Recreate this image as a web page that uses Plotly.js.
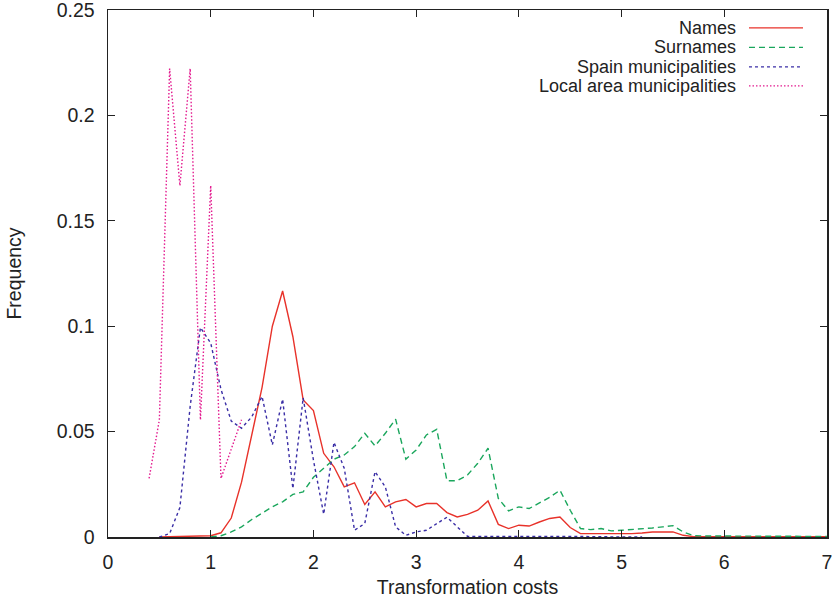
<!DOCTYPE html>
<html>
<head>
<meta charset="utf-8">
<script src="https://cdn.plot.ly/plotly-3.0.1.min.js"></script>
<style>html,body{margin:0;padding:0;background:#fff;}#chart{width:836px;height:598px;}</style>
</head>
<body>
<div id="chart"></div>
<script>
// ---- Data ----
const seriesNames = ["Names", "Surnames", "Spain municipalities", "Local area municipalities"];

const namesX = [0.5,0.6,0.7,0.8,0.9,1.0,1.1,1.2,1.3,1.4,1.5,1.6,1.7,1.8,1.9,2.0,2.1,2.2,2.3,2.4,2.5,2.6,2.7,2.8,2.9,3.0,3.1,3.2,3.3,3.4,3.5,3.6,3.7,3.8,3.9,4.0,4.1,4.2,4.3,4.4,4.5,4.6,4.7,4.8,4.9,5.0,5.1,5.2,5.3,5.4,5.5,5.6,5.7,5.8,5.9,6.0,6.2,6.4,6.6,6.8,7.0];
const namesY = [0,0.0001,0.0002,0.0003,0.0004,0.0006,0.002,0.009,0.026,0.048,0.071,0.100,0.1167,0.095,0.065,0.060,0.0397,0.0333,0.0238,0.0257,0.0154,0.0214,0.0143,0.0167,0.0178,0.0143,0.0159,0.0159,0.0116,0.0095,0.0107,0.0127,0.0171,0.006,0.004,0.0056,0.0052,0.0071,0.0088,0.0095,0.0045,0.0016,0.0016,0.0016,0.0013,0.0013,0.0016,0.0019,0.0024,0.0024,0.0024,0.0008,0.0002,0.0002,0.0002,0.0001,0.0001,0.0001,0.0001,0.0001,0.0001];

const surnamesX = [1.0,1.1,1.2,1.3,1.4,1.5,1.6,1.7,1.8,1.9,2.0,2.1,2.2,2.3,2.4,2.5,2.6,2.7,2.8,2.9,3.0,3.1,3.2,3.3,3.4,3.5,3.6,3.7,3.8,3.9,4.0,4.1,4.2,4.3,4.4,4.5,4.6,4.7,4.8,4.9,5.0,5.1,5.2,5.3,5.4,5.5,5.6,5.7,5.8,6.0,6.2,6.4,6.6,6.8,7.0];
const surnamesY = [0,0.0006,0.0024,0.0048,0.0083,0.0114,0.0143,0.0167,0.0202,0.0214,0.0283,0.0326,0.0369,0.0389,0.0429,0.0492,0.0432,0.0492,0.0559,0.0369,0.0413,0.0484,0.0511,0.0267,0.0267,0.0294,0.035,0.0421,0.0183,0.0124,0.0143,0.0135,0.0162,0.0188,0.0222,0.0127,0.004,0.0035,0.004,0.0029,0.0032,0.0035,0.0038,0.0043,0.0048,0.0054,0.0024,0.0006,0.0005,0.0004,0.0004,0.0003,0.0003,0.0003,0.0003];

const spainX = [0.5,0.6,0.7,0.8,0.9,1.0,1.1,1.2,1.3,1.4,1.5,1.6,1.7,1.8,1.9,2.0,2.1,2.2,2.3,2.4,2.5,2.6,2.7,2.8,2.9,3.0,3.1,3.2,3.3,3.4,3.5,3.6,3.7,3.8,3.9,4.0,4.1,4.2,4.3,4.4,4.5,4.6,4.7,4.8,4.9,5.0,5.2];
const spainY = [0,0.0016,0.014,0.062,0.0994,0.092,0.070,0.055,0.0516,0.057,0.0667,0.0437,0.0654,0.023,0.066,0.0365,0.0108,0.0449,0.0326,0.0032,0.0064,0.031,0.0238,0.0048,0.0008,0.0024,0.0032,0.0064,0.0094,0.0048,0.0003,0.0003,0.0003,0.0004,0.0003,0.0003,0.0004,0.0005,0.0004,0.0003,0.0003,0.0002,0.0002,0.0001,0.0001,0.0001,0];

const localX = [0.4,0.5,0.6,0.7,0.8,0.9,1.0,1.1,1.3];
const localY = [0.0278,0.0556,0.2222,0.1667,0.2222,0.0556,0.1667,0.0278,0.0556];

const xTicks = [0,1,2,3,4,5,6,7];
const yTicks = [0,0.05,0.1,0.15,0.2,0.25];
const yTickText = ["0","0.05","0.1","0.15","0.2","0.25"];

// ---- Styles ----
const colors = ["#e8322a", "#1aa65c", "#3a2ea6", "#e31a8f"];
const dashes = ["solid", "6px,4px", "3px,3px", "1.5px,2px"];
const FONT = "Liberation Sans, Arial, Helvetica, sans-serif";
const FS = 19.5;
const LFS = 18;

const xs = [namesX, surnamesX, spainX, localX];
const ys = [namesY, surnamesY, spainY, localY];

const traces = xs.map((x, i) => ({
  x: x, y: ys[i], type: "scatter", mode: "lines", name: seriesNames[i],
  line: {color: colors[i], width: 1.4, dash: dashes[i]},
  showlegend: false, hoverinfo: "skip"
}));

// custom legend (text on left, sample on right, like the reference)
const legendY = [0.966, 0.929, 0.892, 0.856];
const annotations = seriesNames.map((n, i) => ({
  xref: "paper", yref: "paper", x: 0.8745, y: legendY[i],
  text: n, showarrow: false, xanchor: "right", yanchor: "middle",
  borderpad: 0,
  font: {family: FONT, size: LFS, color: "#222"}
}));
const shapes = seriesNames.map((n, i) => ({
  type: "line", xref: "paper", yref: "paper",
  x0: 0.8915, x1: 0.9666, y0: legendY[i], y1: legendY[i],
  line: {color: colors[i], width: 1.4, dash: dashes[i]}
}));

const axisCommon = {
  showgrid: false, zeroline: false, showline: true, linecolor: "#222", linewidth: 1.5,
  mirror: "ticks", ticks: "inside", ticklen: 7, tickwidth: 1, tickcolor: "#222",
  ticklabeloverflow: "allow",
  tickfont: {family: FONT, size: FS, color: "#222"}
};

const layout = {
  width: 836, height: 598,
  margin: {l: 108, r: 9, t: 10, b: 61},
  paper_bgcolor: "#fff", plot_bgcolor: "#fff",
  font: {family: FONT, size: FS, color: "#222"},
  xaxis: Object.assign({}, axisCommon, {
    range: [0, 7], tickvals: xTicks, ticktext: xTicks.map(String),
    ticklabelstandoff: 7,
    title: {text: "Transformation costs", font: {family: FONT, size: FS, color: "#222"}, standoff: 8}
  }),
  yaxis: Object.assign({}, axisCommon, {
    range: [0, 0.25], tickvals: yTicks, ticktext: yTickText,
    ticklabelstandoff: 8,
    title: {text: "Frequency", font: {family: FONT, size: FS, color: "#222"}, standoff: 30}
  }),
  showlegend: false,
  annotations: annotations,
  shapes: shapes
};

Plotly.newPlot("chart", traces, layout, {staticPlot: true, displayModeBar: false});
</script>
</body>
</html>
